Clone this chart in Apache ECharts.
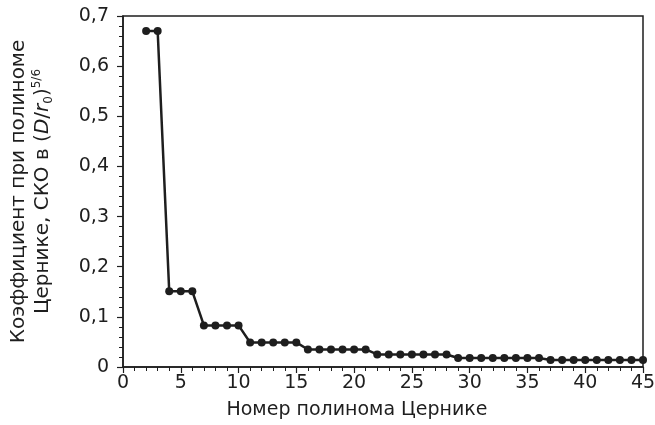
<!DOCTYPE html>
<html>
<head>
<meta charset="utf-8">
<script src="https://cdn.jsdelivr.net/npm/echarts@6/dist/echarts.min.js"></script>
<style>
  html, body { margin: 0; padding: 0; background: #fff; }
  #chart { width: 655px; height: 425px; }
</style>
</head>
<body>
<div id="chart"></div>
<script>
// номера полиномов Цернике и СКО коэффициентов
var zernikeIndex = [2, 3, 4, 5, 6, 7, 8, 9, 10, 11, 12, 13, 14, 15, 16, 17, 18, 19, 20, 21, 22, 23, 24,
  25, 26, 27, 28, 29, 30, 31, 32, 33, 34, 35, 36, 37, 38, 39, 40, 41, 42, 43, 44, 45];
var coefRms = [0.67, 0.67,
  0.151, 0.151, 0.151,
  0.083, 0.083, 0.083, 0.083,
  0.049, 0.049, 0.049, 0.049, 0.049,
  0.035, 0.035, 0.035, 0.035, 0.035, 0.035,
  0.025, 0.025, 0.025, 0.025, 0.025, 0.025, 0.025,
  0.018, 0.018, 0.018, 0.018, 0.018, 0.018, 0.018, 0.018,
  0.014, 0.014, 0.014, 0.014, 0.014, 0.014, 0.014, 0.014, 0.014];
var xTicks = [0, 45, 5];
var yTicks = [0, 0.7, 0.1];

var font = '"DejaVu Sans", "Liberation Sans", sans-serif';
var ink = '#1e1e1e';

var chart = echarts.init(document.getElementById('chart'));
var points = zernikeIndex.map(function (x, i) { return [x, coefRms[i]]; });

chart.setOption({
  animation: false,
  grid: {
    left: 123, right: 12, top: 16, bottom: 58,
    outerBoundsMode: 'none',
    containLabel: false,
    show: true, borderColor: ink, borderWidth: 1.5
  },
  xAxis: {
    type: 'value',
    min: xTicks[0], max: xTicks[1], interval: xTicks[2],
    name: 'Номер полинома Цернике',
    nameLocation: 'middle',
    nameGap: 34,
    nameTextStyle: { fontFamily: font, fontSize: 19, color: ink, padding: [0, 52, 0, 0] },
    axisLine: { lineStyle: { color: ink, width: 1.5 } },
    axisTick: { length: 6, lineStyle: { color: ink, width: 1.2 } },
    minorTick: { show: true, splitNumber: 5, length: 4, lineStyle: { color: ink, width: 1 } },
    splitLine: { show: false },
    axisLabel: { fontFamily: font, fontSize: 19, color: ink, margin: 7 }
  },
  yAxis: {
    type: 'value',
    min: yTicks[0], max: yTicks[1], interval: yTicks[2],
    name: '{a|Коэффициент при полиноме}\n{a|Цернике, СКО в (}{i|D}{a|/}{i|r}{sub|0}{a|)}{sup|5/6}',
    nameLocation: 'middle',
    nameRotate: 90,
    nameGap: 68,
    nameTextStyle: {
      fontFamily: font, fontSize: 20, color: ink, lineHeight: 24,
      rich: {
        a: { fontFamily: font, fontSize: 20, color: ink, lineHeight: 24 },
        i: { fontFamily: font, fontSize: 20, color: ink, fontStyle: 'italic', lineHeight: 24 },
        sub: { fontFamily: font, fontSize: 12, color: ink, verticalAlign: 'bottom', lineHeight: 22 },
        sup: { fontFamily: font, fontSize: 12, color: ink, verticalAlign: 'top', lineHeight: 24 }
      }
    },
    axisLine: { show: true, lineStyle: { color: ink, width: 1.5 } },
    axisTick: { show: true, length: 6, lineStyle: { color: ink, width: 1.2 } },
    minorTick: { show: true, splitNumber: 5, length: 4, lineStyle: { color: ink, width: 1 } },
    splitLine: { show: false },
    axisLabel: {
      fontFamily: font, fontSize: 19, color: ink, margin: 14,
      formatter: function (v) { return v === 0 ? '0' : v.toFixed(1).replace('.', ','); }
    }
  },
  series: [{
    type: 'line',
    data: points,
    symbol: 'circle',
    symbolSize: 8,
    itemStyle: { color: ink },
    lineStyle: { color: ink, width: 2.5 }
  }]
});
</script>
</body>
</html>
